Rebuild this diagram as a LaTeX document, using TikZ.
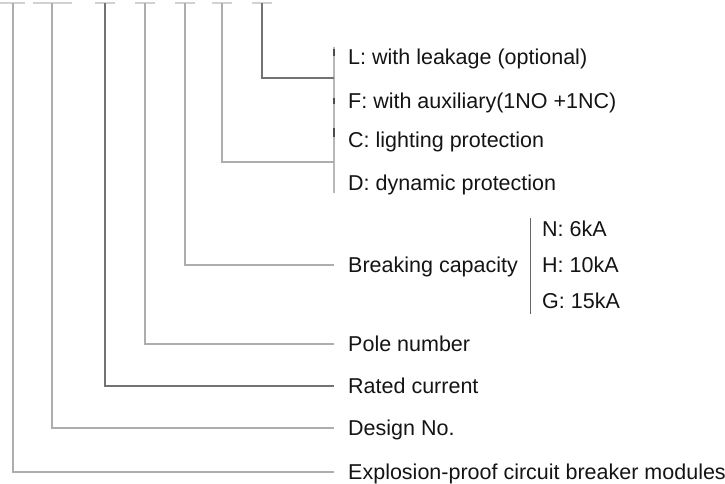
\documentclass[tikz,border=0pt]{standalone}
\usepackage{fontspec}
\setmainfont{Liberation Sans}
\begin{document}
\begin{tikzpicture}[x=1pt,y=-1pt,
  lead/.style={draw=black!32,line width=1.1pt},
  leaddark/.style={draw=black!55,line width=1.1pt},
  tick/.style={draw=black!18,line width=1.1pt},
  brk/.style={draw=black!28,line width=1.1pt},
  lbl/.style={anchor=base west,yshift=-7.7pt,inner sep=0pt,font=\fontsize{21.5}{24}\selectfont,text=black!92}]
\useasboundingbox (0,0) rectangle (725,483);
% label nodes
\node[lbl] (L) at (348,57) {L: with leakage (optional)};
\node[lbl] (F) at (348,101) {F: with auxiliary(1NO +1NC)};
\node[lbl] (C) at (348,140) {C: lighting protection};
\node[lbl] (D) at (348,183) {D: dynamic protection};
\node[lbl] (B) at (348,265) {Breaking capacity};
\node[lbl] (N) at (542,229) {N: 6kA};
\node[lbl] (H) at (542,265) {H: 10kA};
\node[lbl] (G) at (542,301) {G: 15kA};
\node[lbl] (P) at (348,344) {Pole number};
\node[lbl] (R) at (348,386) {Rated current};
\node[lbl] (Dn) at (348,428) {Design No.};
\node[lbl] (E) at (348,472) {Explosion-proof circuit breaker modules};
% top anchors
\coordinate (t1) at (13,3);
\coordinate (t2) at (52,3);
\coordinate (t3) at (105,3);
\coordinate (t4) at (145,3);
\coordinate (t5) at (185,3);
\coordinate (t6) at (222,3);
\coordinate (t7) at (262,3);
% top ticks
\draw[tick] (0,3) -- (25,3);
\draw[tick] (33,3) -- (72,3);
\foreach \c in {t3,t4,t5,t6,t7}{\draw[tick] ([xshift=-10]\c) -- ([xshift=10]\c);}
% brackets
\coordinate (b1top) at (334,47);
\coordinate (b1bot) at (334,193);
\draw[brk] (b1top) -- (b1bot);
\draw[draw=black!70,line width=1.1pt] (334,49) -- (334,56) (334,98) -- (334,104) (334,128) -- (334,137);
\coordinate (b2top) at (530,218);
\coordinate (b2bot) at (530,314);
\draw[draw=black!60,line width=1pt] (b2top) -- (b2bot);
% leaders
\coordinate (j1) at (334,78);
\coordinate (j2) at (334,162);
\coordinate (jB) at (334,265);
\coordinate (jP) at (334,344);
\coordinate (jR) at (334,386);
\coordinate (jD) at (334,428);
\coordinate (jE) at (334,472);
\draw[leaddark] (t7) |- (j1);
\draw[lead] (t6) |- (j2);
\draw[lead] (t5) |- (jB);
\draw[lead] (t4) |- (jP);
\draw[leaddark] (t3) |- (jR);
\draw[lead] (t2) |- (jD);
\draw[lead] (t1) |- (jE);
\end{tikzpicture}
\end{document}
